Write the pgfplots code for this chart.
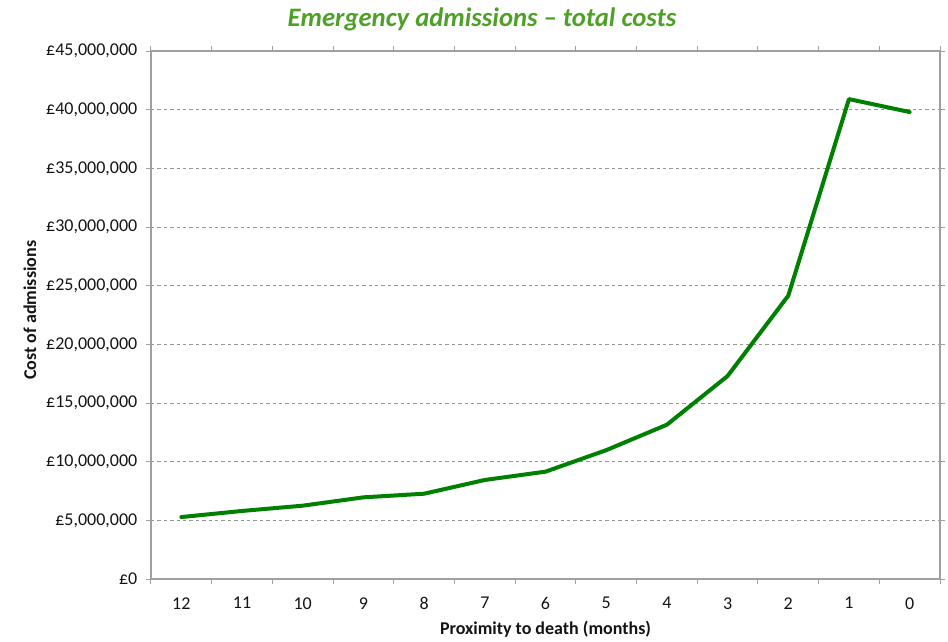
\documentclass[border=0pt]{standalone}
\usepackage{fontspec}
\setmainfont{Carlito}
\usepackage{pgfplots}
\pgfplotsset{compat=1.18}

\definecolor{linegreen}{RGB}{0,128,0}
\definecolor{titlegreen}{RGB}{78,160,40}
\definecolor{framegray}{RGB}{160,160,160}
\definecolor{gridgray}{RGB}{150,150,150}
\definecolor{textdark}{RGB}{20,20,20}

\begin{document}
\begin{tikzpicture}
\begin{axis}[
  scale only axis,
  width=591.75pt, height=396pt,
  xmin=-0.5, xmax=12.5,
  ymin=0, ymax=45000000,
  xtick={0,...,12},
  xticklabels={12,11,10,9,8,7,6,5,4,3,2,1,0},
  minor xtick={-0.5,0.5,...,12.5},
  ytick={0,5000000,10000000,15000000,20000000,25000000,30000000,35000000,40000000,45000000},
  yticklabels={£0,{£5,000,000},{£10,000,000},{£15,000,000},{£20,000,000},{£25,000,000},{£30,000,000},{£35,000,000},{£40,000,000},{£45,000,000}},
  scaled y ticks=false,
  tick align=outside,
  major tick length=3.75pt,
  minor tick length=3.75pt,
  x tick style={draw=none},
  minor x tick style={draw=framegray, line width=0.75pt},
  y tick style={draw=framegray, line width=0.75pt},
  axis line style={draw=framegray, line width=0.9pt},
  ymajorgrids,
  major grid style={draw=gridgray, dash pattern=on 2.6pt off 2.2pt, line width=0.6pt},
  tick label style={font=\fontsize{13.5}{15}\selectfont, text=textdark},
  xticklabel style={yshift=-6.5pt},
  yticklabel style={xshift=-3pt},
  xlabel={Proximity to death (months)},
  ylabel={Cost of admissions},
  label style={font=\fontsize{13.5}{15}\selectfont\bfseries, text=textdark},
  xlabel style={at={(axis description cs:0.5,-0.0947)}, anchor=center},
  ylabel style={at={(axis description cs:-0.1534,0.509)}, anchor=center},
  every axis title shift=0pt,
  title={Emergency admissions – total costs},
  title style={at={(axis description cs:0.4195,1.0606)}, anchor=center, inner sep=0pt,
               font=\fontsize{20}{22}\selectfont\bfseries\itshape, text=titlegreen},
  clip=false,
]
\addplot[draw=linegreen, line width=3pt, line join=round, line cap=round] coordinates {
  (0,5280000) (1,5800000) (2,6250000) (3,6960000) (4,7270000)
  (5,8440000) (6,9150000) (7,10980000) (8,13150000) (9,17300000)
  (10,24150000) (11,40900000) (12,39800000)
};
\end{axis}
\path (-113.25pt,-45pt) rectangle (597.75pt,434.25pt);
\end{tikzpicture}
\end{document}
